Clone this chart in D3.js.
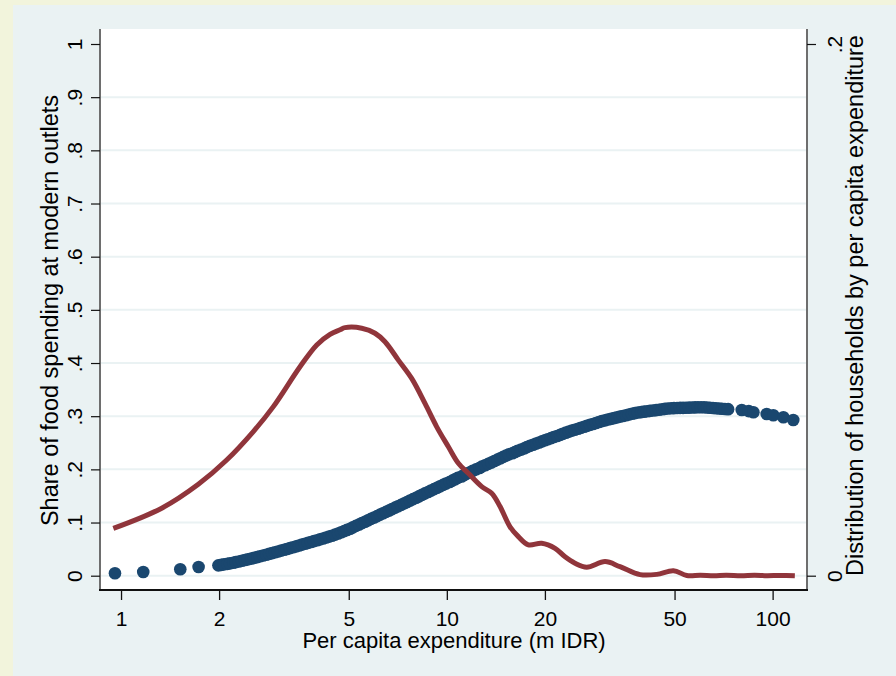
<!DOCTYPE html>
<html><head><meta charset="utf-8">
<script src="https://cdn.jsdelivr.net/npm/d3@7"></script>
<style>
html,body{margin:0;padding:0;background:#f2f4dc;}
svg{display:block;}
text{font-family:"Liberation Sans",Arial,Helvetica,sans-serif;fill:#000;}
</style>
</head><body>
<svg id="chart" width="896" height="676"></svg>
<script>
// ---- tick labels ----
const xTicks = [1, 2, 5, 10, 20, 50, 100];
const xTickLabels = ["1", "2", "5", "10", "20", "50", "100"];
const leftTicks = [0, .1, .2, .3, .4, .5, .6, .7, .8, .9, 1];
const leftTickLabels = ["0", ".1", ".2", ".3", ".4", ".5", ".6", ".7", ".8", ".9", "1"];
const rightTicks = [0, .2];
const rightTickLabels = ["0", ".2"];

// ---- titles ----
const xTitle = "Per capita expenditure (m IDR)";
const leftTitle = "Share of food spending at modern outlets";
const rightTitle = "Distribution of households by per capita expenditure";

// ---- series 1: share at modern outlets (scatter, left axis) ----
const shareX = [0.958, 1.17, 1.52, 1.73,
  1.99, 2.03, 2.07, 2.12, 2.16, 2.21, 2.25, 2.30, 2.35, 2.40,
  2.45, 2.51, 2.56, 2.62, 2.67, 2.73, 2.79, 2.85, 2.91, 2.97,
  3.03, 3.10, 3.17, 3.23, 3.30, 3.37, 3.45, 3.52, 3.59, 3.67,
  3.75, 3.83, 3.91, 4.00, 4.08, 4.17, 4.26, 4.35, 4.44, 4.54,
  4.64, 4.74, 4.84, 4.94, 5.05, 5.15, 5.26, 5.38, 5.49, 5.61,
  5.73, 5.85, 5.98, 6.11, 6.24, 6.37, 6.51, 6.65, 6.79, 6.94,
  7.08, 7.24, 7.39, 7.55, 7.71, 7.88, 8.05, 8.22, 8.39, 8.57,
  8.76, 8.94, 9.14, 9.33, 9.53, 9.74, 9.94, 10.2, 10.4, 10.6,
  10.8, 11.1, 11.3, 11.5, 11.8, 12.0, 12.3, 12.6, 12.8, 13.1,
  13.4, 13.7, 14.0, 14.3, 14.6, 14.9, 15.2, 15.5, 15.9, 16.2,
  16.5, 16.9, 17.3, 17.6, 18.0, 18.4, 18.8, 19.2, 19.6, 20.0,
  20.4, 20.9, 21.3, 21.8, 22.3, 22.7, 23.2, 23.7, 24.2, 24.7,
  25.3, 25.8, 26.4, 26.9, 27.5, 28.1, 28.7, 29.3, 29.9, 30.6,
  31.2, 31.9, 32.6, 33.3, 34.0, 34.7, 35.5, 36.2, 37.0, 37.8,
  38.6, 39.5, 40.3, 41.2, 42.0, 42.9, 43.9, 44.8, 45.8, 46.7,
  47.7, 48.8, 49.8, 50.9, 52.0, 53.1, 54.2, 55.4, 56.6, 57.8,
  59.0, 60.3, 61.6, 62.9, 64.2, 65.6, 67.0, 68.5, 69.9, 71.4,
  73.0,
  80.4, 84.5, 87.3, 95.9, 100.5, 107.9, 115.7];
const shareY = [0.0045, 0.007, 0.012, 0.0164,
  0.0195, 0.0204, 0.0213, 0.0222, 0.0231, 0.0243, 0.0256, 0.0268, 0.0281, 0.0294,
  0.0307, 0.0321, 0.0335, 0.0350, 0.0365, 0.0380, 0.0395, 0.0410, 0.0425, 0.0440,
  0.0455, 0.0471, 0.0487, 0.0503, 0.0519, 0.0535, 0.0552, 0.0568, 0.0584, 0.0600,
  0.0617, 0.0633, 0.0650, 0.0667, 0.0684, 0.0701, 0.0718, 0.0735, 0.0752, 0.0773,
  0.0794, 0.0816, 0.0839, 0.0861, 0.0884, 0.0910, 0.0937, 0.0963, 0.0990, 0.1016,
  0.1042, 0.1068, 0.1095, 0.1121, 0.1148, 0.1174, 0.1201, 0.1227, 0.1253, 0.1280,
  0.1306, 0.1332, 0.1359, 0.1386, 0.1413, 0.1440, 0.1467, 0.1494, 0.1521, 0.1548,
  0.1575, 0.1602, 0.1629, 0.1655, 0.1682, 0.1708, 0.1735, 0.1761, 0.1788, 0.1814,
  0.1840, 0.1866, 0.1893, 0.1919, 0.1946, 0.1972, 0.1999, 0.2025, 0.2052, 0.2078,
  0.2104, 0.2130, 0.2157, 0.2183, 0.2210, 0.2234, 0.2258, 0.2281, 0.2304, 0.2327,
  0.2350, 0.2372, 0.2395, 0.2418, 0.2441, 0.2463, 0.2486, 0.2506, 0.2527, 0.2547,
  0.2567, 0.2587, 0.2608, 0.2628, 0.2649, 0.2669, 0.2690, 0.2709, 0.2728, 0.2746,
  0.2764, 0.2782, 0.2800, 0.2818, 0.2836, 0.2854, 0.2872, 0.2890, 0.2908, 0.2922,
  0.2937, 0.2950, 0.2964, 0.2977, 0.2991, 0.3004, 0.3018, 0.3031, 0.3045, 0.3057,
  0.3070, 0.3077, 0.3085, 0.3092, 0.3100, 0.3107, 0.3115, 0.3122, 0.3130, 0.3137,
  0.3145, 0.3148, 0.3152, 0.3154, 0.3156, 0.3157, 0.3159, 0.3161, 0.3163, 0.3165,
  0.3167, 0.3167, 0.3168, 0.3163, 0.3159, 0.3154, 0.3150, 0.3145, 0.3141, 0.3136,
  0.3132,
  0.3116, 0.3095, 0.3073, 0.3041, 0.3017, 0.2979, 0.2928];

// ---- series 2: distribution of households (line, right axis) ----
const distX = [0.947, 1.333, 1.727, 2.11, 2.547, 2.934, 3.543, 3.988, 4.38, 4.70,
  4.87, 5.48, 6.02, 6.46, 7.10, 7.80, 8.57, 9.31, 10.11, 10.85,
  11.64, 12.80, 13.73, 14.57, 15.63, 16.58, 17.79, 19.55, 21.49, 23.06,
  24.74, 26.88, 30.6, 34.0, 39.2, 44.1, 49.6, 54.5, 60, 66,
  72, 80, 88, 96, 104, 110, 117];
const distY = [0.0178, 0.0254, 0.0344, 0.0435, 0.0542, 0.0636, 0.0786, 0.0868, 0.0908, 0.0925,
  0.0933, 0.0931, 0.0912, 0.0880, 0.0811, 0.0742, 0.0648, 0.0560, 0.0485, 0.0423,
  0.0385, 0.0335, 0.0310, 0.0260, 0.0184, 0.0147, 0.0116, 0.0122, 0.0103, 0.0071,
  0.0047, 0.0032, 0.0053, 0.0034, 0.0004, 0.0005, 0.0019, 0.0001, 0.0002, 0.0000,
  0.0002, 0.0000, 0.0002, 0.0000, 0.0001, 0.0001, 0.0000];

// ---- layout ----
const W = 896, H = 676;
const plot = {left: 101, right: 807, top: 29, bottom: 590};

const svg = d3.select("#chart");

// backgrounds
svg.append("rect").attr("x", 0).attr("y", 0).attr("width", W).attr("height", H).attr("fill", "#f2f4dc");
svg.append("rect").attr("x", 13).attr("y", 5).attr("width", W - 13).attr("height", H - 5).attr("fill", "#eaf2f3");
svg.append("rect").attr("x", plot.left).attr("y", plot.top)
  .attr("width", plot.right - plot.left).attr("height", plot.bottom - plot.top).attr("fill", "#ffffff");

// scales
const x = d3.scaleLog().domain([0.868, 127.5]).range([plot.left, plot.right]);
const yL = d3.scaleLinear().domain([0, 1]).range([575.7, 44]);
const yR = d3.scaleLinear().domain([0, 0.2]).range([575.7, 44]);

// gridlines
svg.append("g").selectAll("line").data(leftTicks.filter(d => d < 1)).join("line")
  .attr("x1", plot.left).attr("x2", plot.right)
  .attr("y1", d => yL(d)).attr("y2", d => yL(d))
  .attr("stroke", "#eaf2f3").attr("stroke-width", 2);

// scatter
svg.append("g").selectAll("circle").data(shareX.map((d, i) => [d, shareY[i]])).join("circle")
  .attr("cx", d => x(d[0])).attr("cy", d => yL(d[1])).attr("r", 6.3)
  .attr("fill", "#1a476f");

// line
const line = d3.line().curve(d3.curveCatmullRom.alpha(0.5)).x(d => x(d[0])).y(d => yR(d[1]));
svg.append("path").datum(distX.map((d, i) => [d, distY[i]]))
  .attr("d", line).attr("fill", "none").attr("stroke", "#90353b")
  .attr("stroke-width", 5).attr("stroke-linejoin", "round").attr("stroke-linecap", "butt");

// axis lines
svg.append("line").attr("x1", 100).attr("x2", 100).attr("y1", plot.top).attr("y2", plot.bottom + 1)
  .attr("stroke", "#6e6e6e").attr("stroke-width", 2);
svg.append("line").attr("x1", 807).attr("x2", 807).attr("y1", plot.top).attr("y2", plot.bottom + 1)
  .attr("stroke", "#6e6e6e").attr("stroke-width", 2);
svg.append("line").attr("x1", 99).attr("x2", 808).attr("y1", plot.bottom).attr("y2", plot.bottom)
  .attr("stroke", "#111").attr("stroke-width", 2);

const fontTick = "21px";

// bottom axis
const gx = svg.append("g").attr("transform", `translate(0,${plot.bottom})`)
  .call(d3.axisBottom(x).tickValues(xTicks).tickFormat((d, i) => xTickLabels[i]).tickSize(10).tickSizeOuter(0));
gx.select(".domain").remove();
gx.selectAll(".tick line").attr("stroke", "#111").attr("stroke-width", 1.3);
gx.selectAll(".tick text").attr("y", 36).attr("dy", 0)
  .style("font-size", fontTick).style("font-family", '"Liberation Sans",Arial,sans-serif').attr("fill", "#000");

// left axis
const gl = svg.append("g").attr("transform", "translate(100,0)")
  .call(d3.axisLeft(yL).tickValues(leftTicks).tickFormat((d, i) => leftTickLabels[i]).tickSize(9).tickSizeOuter(0));
gl.select(".domain").remove();
gl.selectAll(".tick line").attr("stroke", "#111").attr("stroke-width", 1.2);
gl.selectAll(".tick text").attr("x", 0).attr("dy", 0)
  .attr("transform", "translate(-18,0) rotate(-90)").attr("text-anchor", "middle")
  .style("font-size", fontTick).style("font-family", '"Liberation Sans",Arial,sans-serif').attr("fill", "#000");

// right axis
const gr = svg.append("g").attr("transform", "translate(807,0)")
  .call(d3.axisRight(yR).tickValues(rightTicks).tickFormat((d, i) => rightTickLabels[i]).tickSize(9).tickSizeOuter(0));
gr.select(".domain").remove();
gr.selectAll(".tick line").attr("stroke", "#111").attr("stroke-width", 1.2);
gr.selectAll(".tick text").attr("x", 0).attr("dy", 0)
  .attr("transform", "translate(35,0) rotate(-90)").attr("text-anchor", "middle")
  .style("font-size", fontTick).style("font-family", '"Liberation Sans",Arial,sans-serif').attr("fill", "#000");

// titles
svg.append("text").attr("x", (plot.left + plot.right) / 2).attr("y", 648)
  .attr("text-anchor", "middle").style("font-size", "22px").text(xTitle);
svg.append("text").attr("transform", `translate(58,${(plot.top + plot.bottom) / 2 + 1}) rotate(-90)`)
  .attr("text-anchor", "middle").style("font-size", "23.5px").text(leftTitle);
svg.append("text").attr("transform", `translate(863,${(33 + 578) / 2}) rotate(-90)`)
  .attr("text-anchor", "middle").style("font-size", "23.5px").text(rightTitle);
</script>
</body></html>
